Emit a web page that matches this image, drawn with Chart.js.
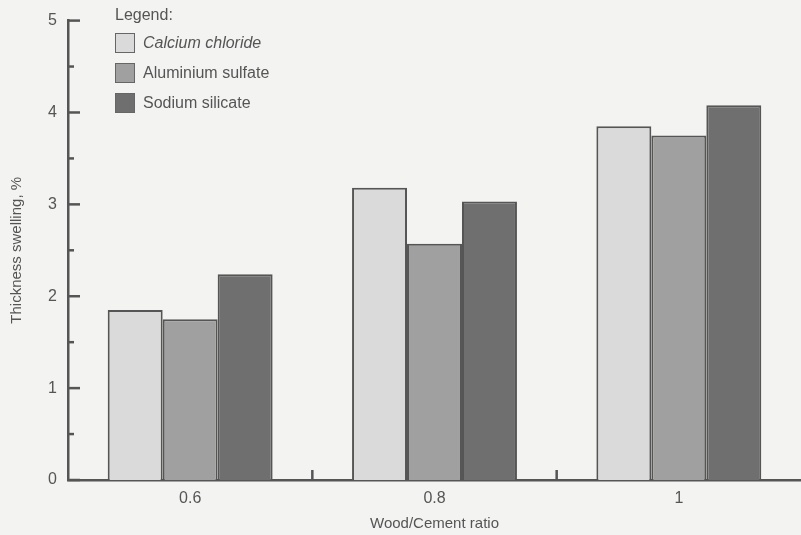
<!DOCTYPE html>
<html>
<head>
<meta charset="utf-8">
<script src="https://cdn.jsdelivr.net/npm/chart.js@4.4.1/dist/chart.umd.min.js"></script>
<style>
  body { margin: 0; background: #f3f3f2; }
  #wrap { position: relative; width: 801px; height: 535px; }
  #legend { position: absolute; left: 115px; top: 5px; font: 16px "Liberation Sans", Arial, sans-serif; color: #555; }
  #legend .ttl { height: 23px; line-height: 20px; }
  #legend .row { height: 30px; display: flex; align-items: center; }
  #legend .box { width: 20px; height: 20px; border: 1.5px solid #666; box-sizing: border-box; margin-right: 8px; }
</style>
</head>
<body>
<div id="wrap">
  <canvas id="myCanvas" width="801" height="535"></canvas>
  <div id="legend"></div>
</div>
<script>
// values
var categories = ['0.6', '0.8', '1'];
var calcium = [1.85, 3.18, 3.85];
var aluminium = [1.75, 2.57, 3.75];
var sodium = [2.24, 3.03, 4.08];
var seriesNames = ['Calcium chloride', 'Aluminium sulfate', 'Sodium silicate'];
var seriesColors = ['#dadada', '#a0a0a0', '#6f6f6f'];
var yMax = 5;
var minorStep = 0.5;

Chart.defaults.font.family = '"Liberation Sans", Arial, sans-serif';
Chart.defaults.font.size = 15;
Chart.defaults.color = '#555';

// inward tick marks like the printed figure
var innerTicks = {
  id: 'innerTicks',
  afterDraw: function(chart) {
    var ctx = chart.ctx, area = chart.chartArea;
    var x = chart.scales.x, y = chart.scales.y;
    ctx.save();
    ctx.strokeStyle = '#555';
    ctx.lineWidth = 2.5;
    for (var v = 0; v <= yMax; v += minorStep) {
      var py = y.getPixelForValue(v);
      var len = (v % 1 === 0) ? 12 : 6;
      ctx.beginPath();
      ctx.moveTo(area.left, py);
      ctx.lineTo(area.left + len, py);
      ctx.stroke();
    }
    for (var i = 1; i < categories.length; i++) {
      var px = (x.getPixelForValue(i - 1) + x.getPixelForValue(i)) / 2;
      ctx.beginPath();
      ctx.moveTo(px, area.bottom);
      ctx.lineTo(px, area.bottom - 10);
      ctx.stroke();
    }
    ctx.restore();
  }
};

var values = [calcium, aluminium, sodium];
var datasets = [];
for (var s = 0; s < seriesNames.length; s++) {
  datasets.push({
    label: seriesNames[s],
    data: values[s],
    backgroundColor: seriesColors[s],
    borderColor: '#555',
    borderWidth: 2,
    barPercentage: 1,
    categoryPercentage: 0.675
  });
}

var chart = new Chart(document.getElementById('myCanvas'), {
  type: 'bar',
  data: { labels: categories, datasets: datasets },
  options: {
    responsive: false,
    devicePixelRatio: 1,
    animation: false,
    layout: { padding: { top: 13, right: 0, left: 0, bottom: 0 } },
    plugins: { legend: { display: false }, tooltip: { enabled: false } },
    scales: {
      x: {
        grid: { display: false, drawTicks: false },
        border: { display: true, color: '#555', width: 2.5 },
        ticks: { padding: 9, font: { size: 16 } },
        title: { display: true, text: 'Wood/Cement ratio', padding: { top: 0, bottom: 2 } },
        afterFit: function(sc) { sc.height = 55; }
      },
      y: {
        min: 0,
        max: yMax,
        grid: { display: false, drawTicks: false },
        border: { display: true, color: '#555', width: 2.5 },
        ticks: { stepSize: 1, padding: 11, font: { size: 16 } },
        title: { display: true, text: 'Thickness swelling, %', padding: { top: 8, bottom: 0 } },
        afterFit: function(sc) { sc.width = 68; }
      }
    }
  },
  plugins: [innerTicks]
});

// legend box in the top-left corner, built from the datasets
var lg = document.getElementById('legend');
var html = '<div class="ttl">Legend:</div>';
chart.data.datasets.forEach(function(ds, i) {
  var style = i === 0 ? ' style="font-style:italic"' : '';
  html += '<div class="row"><span class="box" style="background:' + ds.backgroundColor + '"></span><span' + style + '>' + ds.label + '</span></div>';
});
lg.innerHTML = html;
</script>
</body>
</html>
